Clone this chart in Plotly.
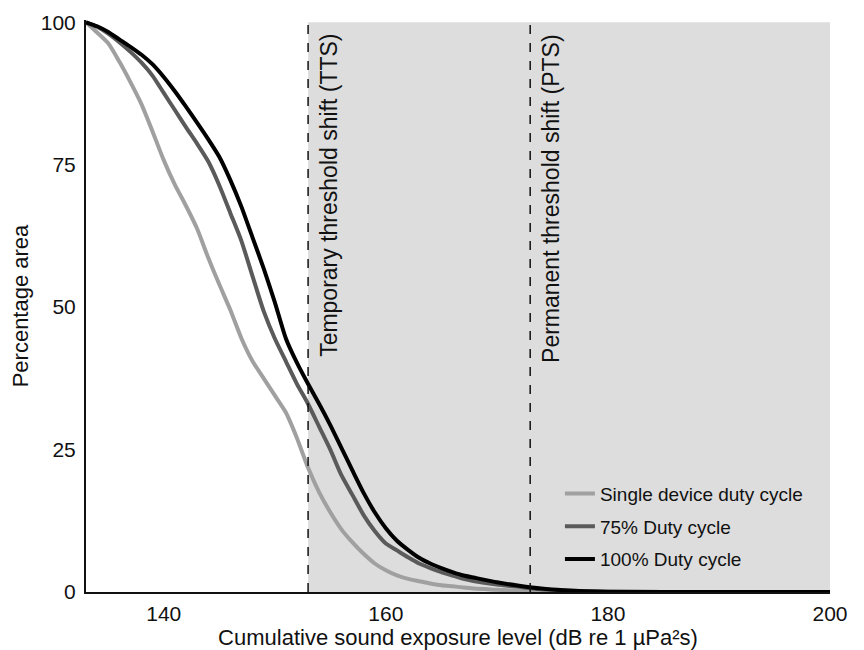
import plotly.graph_objects as go

# Cumulative SEL (dB re 1 µPa²s)
sel = [133, 134, 135, 136, 137, 138, 139, 140, 141, 142, 143, 144, 145, 146, 147, 148, 149, 150,
       151, 152, 153, 154, 155, 156, 157, 158, 159, 160, 161, 162, 163, 164, 165, 166, 167, 168,
       170, 172, 174, 176, 178, 180, 190, 200]

single_device = [100, 98.2, 96.3, 93.1, 89.5, 85.6, 80.8, 75.8, 71.5, 67.8, 63.8, 58.7, 54.0, 49.5,
                 44.5, 40.5, 37.5, 34.5, 31.5, 27.0, 21.8, 17.5, 14.0, 11.0, 8.7, 6.7, 5.0, 3.8,
                 2.9, 2.3, 1.9, 1.5, 1.2, 1.0, 0.8, 0.6, 0.4, 0.2, 0.1, 0.05, 0.02, 0.0, 0.0, 0.0]

duty_75 = [100, 99.2, 98.0, 96.5, 94.8, 92.9, 90.6, 87.6, 84.6, 81.6, 78.7, 75.6, 71.4, 66.5,
           61.6, 55.4, 49.3, 44.5, 40.5, 36.5, 33.0, 29.0, 25.0, 20.5, 17.0, 13.5, 10.7, 8.5,
           7.3, 6.1, 5.0, 4.2, 3.5, 2.9, 2.3, 1.9, 1.3, 0.9, 0.5, 0.3, 0.15, 0.05, 0.0, 0.0]

duty_100 = [100, 99.3, 98.3, 97.0, 95.7, 94.3, 92.6, 90.4, 87.9, 85.2, 82.4, 79.5, 76.4, 72.3,
            67.6, 62.2, 56.8, 50.9, 44.5, 40.2, 36.5, 33.0, 29.3, 25.3, 21.3, 17.4, 14.0, 11.2,
            9.0, 7.4, 6.0, 5.0, 4.2, 3.5, 2.9, 2.5, 1.7, 1.1, 0.6, 0.3, 0.15, 0.05, 0.0, 0.0]

series_names = ["Single device duty cycle", "75% Duty cycle", "100% Duty cycle"]
series_colors = ["#a0a0a0", "#5a5a5a", "#000000"]

tts_level = 153
pts_level = 173
tts_label = "Temporary threshold shift (TTS)"
pts_label = "Permanent threshold shift (PTS)"

x_ticks = [140, 160, 180, 200]
y_ticks = [0, 25, 50, 75, 100]
x_min, x_max = 133, 200

FONT = "Liberation Sans, Arial, sans-serif"

fig = go.Figure()

for i, (name, ys, col) in enumerate(zip(series_names, [single_device, duty_75, duty_100], series_colors)):
    fig.add_trace(go.Scatter(
        x=sel, y=ys, mode="lines", name=name,
        line=dict(color=col, width=4, shape="spline", smoothing=0.6),
        legendgroup=f"g{i}",
    ))

# Shaded region beyond TTS
fig.add_shape(type="rect", xref="x", yref="y", x0=tts_level, x1=x_max, y0=0, y1=100,
              fillcolor="#dddddd", line=dict(width=0), layer="below")
for lvl in (tts_level, pts_level):
    fig.add_shape(type="line", xref="x", yref="y", x0=lvl, x1=lvl, y0=0, y1=100,
                  line=dict(color="#111111", width=1.5, dash="dash"), layer="above")

for lvl, txt in ((tts_level, tts_label), (pts_level, pts_label)):
    fig.add_annotation(x=lvl, y=100, xref="x", yref="y", text=txt, textangle=-90,
                       showarrow=False, xanchor="left", yanchor="top", xshift=6, yshift=-10,
                       font=dict(family=FONT, size=23, color="#111111"))

fig.update_layout(
    width=864, height=650,
    margin=dict(l=78, r=42, t=12, b=66),
    plot_bgcolor="white", paper_bgcolor="white",
    font=dict(family=FONT, size=21, color="#111111"),
    showlegend=True,
    legend=dict(x=0.637, y=0.205, xanchor="left", yanchor="top", bgcolor="rgba(0,0,0,0)",
                font=dict(family=FONT, size=19, color="#111111"), tracegroupgap=5,
                itemwidth=30),
)
fig.update_xaxes(range=[x_min, x_max], tickvals=x_ticks, showgrid=False, zeroline=False,
                 showline=True, linecolor="#111111", linewidth=2, ticks="", ticklen=0,
                 automargin=False, ticklabelstandoff=2, tickfont=dict(size=21),
                 title=dict(text="Cumulative sound exposure level (dB re 1 µPa²s)", standoff=0,
                            font=dict(size=22)))
fig.update_yaxes(range=[0, 100.4], tickvals=y_ticks, showgrid=False, zeroline=False,
                 showline=True, linecolor="#111111", linewidth=2, ticks="", ticklen=0,
                 automargin=False, ticklabelstandoff=4, tickfont=dict(size=21),
                 title=dict(text="Percentage area", standoff=8, font=dict(size=22)))

fig.write_html("out.html")
